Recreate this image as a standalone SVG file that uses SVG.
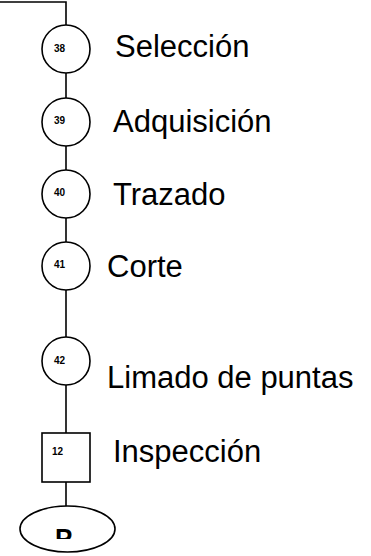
<svg xmlns="http://www.w3.org/2000/svg" width="371" height="556" viewBox="0 0 371 556">
<style>
.s{fill:#fff;stroke:#000;stroke-width:1.6}
.c{fill:none;stroke:#000;stroke-width:1.6}
.n{font-family:"Liberation Sans",Arial,sans-serif;font-size:10px;font-weight:bold;fill:#000}
.l{font-family:"Liberation Sans",Arial,sans-serif;font-size:31px;fill:#000}
.e{font-family:"Liberation Sans",Arial,sans-serif;font-size:26px;font-weight:bold;fill:#000}
</style>
<defs>
<clipPath id="clipE"><rect x="0" y="500" width="371" height="39"/></clipPath>
</defs>
<rect width="371" height="556" fill="#fff"/>
<g id="connectors">
<polyline class="c" points="0,2 66,2 66,25"/>
<line class="c" x1="66" y1="73" x2="66" y2="98"/>
<line class="c" x1="66" y1="146" x2="66" y2="170"/>
<line class="c" x1="66" y1="218" x2="66" y2="242"/>
<line class="c" x1="66" y1="290" x2="66" y2="337"/>
<line class="c" x1="66" y1="385" x2="66" y2="433"/>
<line class="c" x1="66" y1="482" x2="66" y2="506"/>
</g>
<g id="n38"><circle class="s" cx="66" cy="49" r="24"/><text class="n" x="54" y="52">38</text><text class="l" x="115" y="57">Selección</text></g>
<g id="n39"><circle class="s" cx="66" cy="122" r="24"/><text class="n" x="54" y="124">39</text><text class="l" x="113" y="132">Adquisición</text></g>
<g id="n40"><circle class="s" cx="66" cy="194" r="24"/><text class="n" x="54" y="196">40</text><text class="l" x="113" y="205">Trazado</text></g>
<g id="n41"><circle class="s" cx="66" cy="266" r="24"/><text class="n" x="54" y="268">41</text><text class="l" x="107" y="277">Corte</text></g>
<g id="n42"><circle class="s" cx="66" cy="361" r="24"/><text class="n" x="54" y="364">42</text><text class="l" x="107" y="388">Limado de puntas</text></g>
<g id="n12"><rect class="s" x="42" y="433" width="48" height="49"/><text class="n" x="52" y="455">12</text><text class="l" x="113" y="462">Inspección</text></g>
<g id="end"><ellipse class="s" cx="67.5" cy="529" rx="47.5" ry="23"/><text class="e" x="55" y="547" clip-path="url(#clipE)">P</text></g>
</svg>
